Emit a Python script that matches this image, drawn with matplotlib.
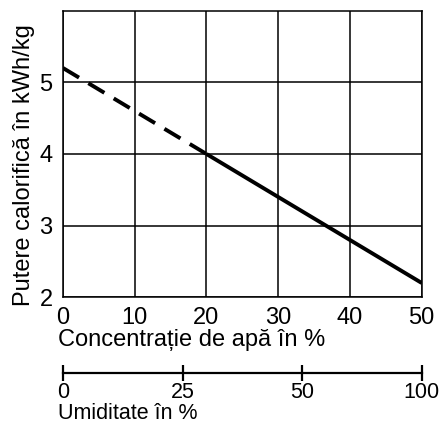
import matplotlib
matplotlib.use("Agg")
import matplotlib.pyplot as plt

plt.rcParams["font.family"] = ["Liberation Sans", "DejaVu Sans"]

# water concentration (%) vs. calorific value (kWh/kg)
conc_dashed = [0, 20]
value_dashed = [5.2, 4.0]
conc_solid = [20, 50]
value_solid = [4.0, 2.2]

x_ticks = [0, 10, 20, 30, 40, 50]
y_ticks = [2, 3, 4, 5]

# moisture scale: labels drawn evenly along the concentration range
moist_labels = ["0", "25", "50", "100"]
moist_pos = [0, 50 / 3, 100 / 3, 50]

FS = 17
FS2 = 15.5

fig = plt.figure(figsize=(4.44, 4.28), dpi=100)
ax = fig.add_axes([63 / 444, 1 - 297.3 / 428, (421.7 - 63) / 444, (297.3 - 10.7) / 428])

ax.plot(conc_dashed, value_dashed, color="black", lw=2.8, dashes=(4.8, 2.8), dash_capstyle="butt")
ax.plot(conc_solid, value_solid, color="black", lw=2.8, solid_capstyle="butt")

ax.set_xlim(0, 50)
ax.set_ylim(2, 6)
ax.set_xticks(x_ticks)
ax.set_yticks(y_ticks)
ax.grid(True, color="black", lw=1.1)
for sp in ax.spines.values():
    sp.set_linewidth(1.1)
ax.tick_params(length=0, labelsize=FS)
ax.tick_params(axis="x", pad=7)
ax.tick_params(axis="y", pad=7.5)

ax.set_xlabel("Concentrație de apă în %", fontsize=FS, loc="left", labelpad=0)
ax.xaxis.label.set_x(-0.015)
ax.set_ylabel("Putere calorifică în kWh/kg", fontsize=FS, labelpad=3)
ax.yaxis.label.set_y(0.46)

# second scale below
ax2 = fig.add_axes([63 / 444, 1 - 373 / 428, (421.7 - 63) / 444, 0.001])
ax2.set_xlim(0, 50)
ax2.set_ylim(0, 1)
for side in ["top", "left", "right"]:
    ax2.spines[side].set_visible(False)
ax2.spines["bottom"].set_linewidth(1.6)
ax2.set_yticks([])
ax2.set_xticks(moist_pos)
ax2.set_xticklabels(moist_labels)
ax2.tick_params(axis="x", direction="inout", length=11, width=1.6, labelsize=FS2, pad=1)
ax2.set_xlabel("Umiditate în %", fontsize=FS2, loc="left", labelpad=0)
ax2.xaxis.label.set_x(-0.015)
ax2.patch.set_visible(False)

fig.savefig("out.png", dpi=100)
